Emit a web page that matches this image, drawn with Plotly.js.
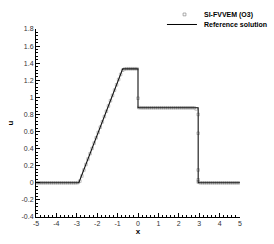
<!DOCTYPE html>
<html><head><meta charset="utf-8">
<script src="https://cdn.plot.ly/plotly-3.0.1.min.js"></script>
<style>html,body{margin:0;padding:0;background:#fff}#chart{width:274px;height:244px}</style>
</head><body><div id="chart"></div>
<script>
// Numerical solution (SI-FVVEM O3), cell centres
const numX = [-4.95,-4.85,-4.75,-4.65,-4.55,-4.45,-4.35,-4.25,-4.15,-4.05,
  -3.95,-3.85,-3.75,-3.65,-3.55,-3.45,-3.35,-3.25,-3.15,-3.05,-2.95,
  -2.85,-2.75,-2.65,-2.55,-2.45,-2.35,-2.25,-2.15,-2.05,-1.95,-1.85,-1.75,-1.65,-1.55,-1.45,-1.35,-1.25,-1.15,-1.05,-0.95,-0.85,-0.75,
  -0.65,-0.55,-0.45,-0.35,-0.25,-0.15,-0.05,
  0.0,
  0.05,0.15,0.25,0.35,0.45,0.55,0.65,0.75,0.85,0.95,1.05,1.15,1.25,1.35,1.45,1.55,1.65,1.75,1.85,1.95,2.05,2.15,2.25,2.35,2.45,2.55,2.65,2.75,2.85,
  2.95,2.95,2.95,2.95,2.95,
  3.05,3.15,3.25,3.35,3.45,3.55,3.65,3.75,3.85,3.95,4.05,4.15,4.25,4.35,4.45,4.55,4.65,4.75,4.85,4.95];
const numU = [0,0,0,0,0,0,0,0,0,0,
  0,0,0,0,0,0,0,0,0,0,0.002,
  0.02,0.08,0.15,0.215,0.279,0.341,0.403,0.465,0.527,0.589,0.651,0.713,0.775,0.837,0.899,0.961,1.023,1.085,1.147,1.209,1.268,1.318,
  1.332,1.335,1.335,1.335,1.335,1.335,1.335,
  0.99,
  0.88,0.878,0.878,0.878,0.878,0.878,0.878,0.878,0.878,0.878,0.878,0.878,0.878,0.878,0.878,0.878,0.878,0.878,0.878,0.878,0.878,0.878,0.878,0.878,0.878,0.878,0.878,0.878,0.865,
  0.80,0.58,0.15,0.035,0.01,
  0,0,0,0,0,0,0,0,0,0,0,0,0,0,0,0,0,0,0,0];
// Reference solution
const refX = [-5,-2.9,-0.75,0,0,2.95,2.95,5];
const refU = [0,0,1.333,1.333,0.878,0.878,0,0];
// Ticks
const xTicks = [-5,-4,-3,-2,-1,0,1,2,3,4,5];
const xTickText = ["-5","-4","-3","-2","-1","0","1","2","3","4","5"];
const yTicks = [-0.4,-0.2,0,0.2,0.4,0.6,0.8,1,1.2,1.4,1.6,1.8];
const yTickText = ["-0.4","-0.2","0","0.2","0.4","0.6","0.8","1","1.2","1.4","1.6","1.8"];
const legendNames = ["SI-FVVEM (O3)","Reference solution"];

const font = "Liberation Sans, Arial, sans-serif";
const traces = [
  {x: numX, y: numU, mode: "markers", name: legendNames[0], showlegend: false,
   marker: {symbol: "square-open", size: 2.6, color: "#888", line: {width: 0.5, color: "#888"}}},
  {x: refX, y: refU, mode: "lines", line: {color: "#111", width: 1.1}, name: legendNames[1], showlegend: false}
];
const axisCommon = {
  showgrid: false, zeroline: false, showline: true, linecolor: "#000", linewidth: 1,
  ticks: "inside", ticklen: 4, tickwidth: 1, tickcolor: "#000",
  tickfont: {family: font, size: 7, color: "#333"}, mirror: false
};
const layout = {
  width: 274, height: 244,
  margin: {l: 36, r: 34, t: 29, b: 27},
  paper_bgcolor: "#fff", plot_bgcolor: "#fff",
  showlegend: false,
  xaxis: Object.assign({}, axisCommon, {
    range: [-5, 5], tickmode: "array", tickvals: xTicks, ticktext: xTickText,
    minor: {dtick: 0.2, ticklen: 2, ticks: "inside", tickcolor: "#000"},
    title: {text: "<b>x</b>", font: {family: font, size: 8, color: "#000"}, standoff: 0}
  }),
  yaxis: Object.assign({}, axisCommon, {
    range: [-0.4, 1.8], tickmode: "array", tickvals: yTicks, ticktext: yTickText,
    minor: {dtick: 0.04, ticklen: 2, ticks: "inside", tickcolor: "#000"},
    title: {text: "<b>u</b>", font: {family: font, size: 8, color: "#000"}, standoff: 6}
  }),
  shapes: [
    {type: "rect", xref: "paper", yref: "paper", x0: 0.721, x1: 0.735, y0: 1.07, y1: 1.085,
     line: {color: "#777", width: 0.6}, fillcolor: "rgba(0,0,0,0)"},
    {type: "line", xref: "paper", yref: "paper", x0: 0.642, x1: 0.789, y0: 1.024, y1: 1.024,
     line: {color: "#000", width: 1}}
  ],
  annotations: [
    {text: "<b>" + legendNames[0] + "</b>", xref: "paper", yref: "paper", x: 0.812, y: 1.077,
     xanchor: "left", yanchor: "middle", showarrow: false, font: {family: font, size: 7, color: "#000"}},
    {text: "<b>" + legendNames[1] + "</b>", xref: "paper", yref: "paper", x: 0.812, y: 1.024,
     xanchor: "left", yanchor: "middle", showarrow: false, font: {family: font, size: 7, color: "#000"}}
  ]
};
Plotly.newPlot("chart", traces, layout, {staticPlot: true, displayModeBar: false});
</script></body></html>
